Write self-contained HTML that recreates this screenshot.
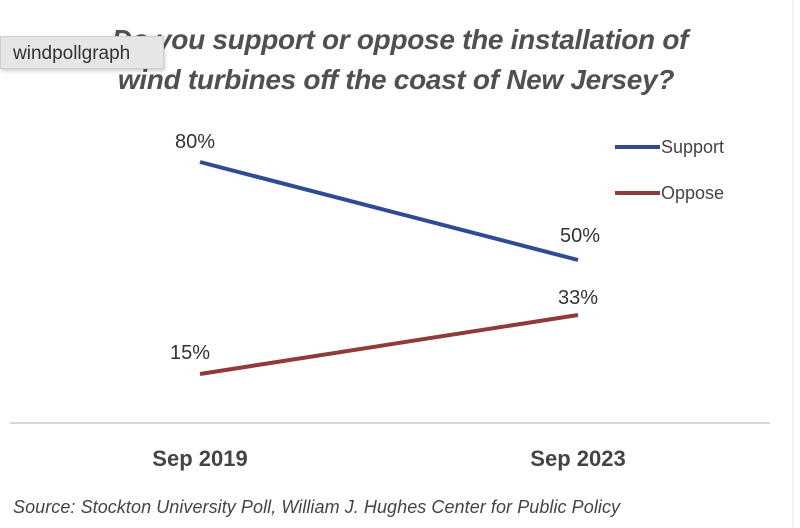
<!DOCTYPE html>
<html><head><style>
body{margin:0;background:#fff;width:800px;height:528px;overflow:hidden;position:relative;font-family:"Liberation Sans",sans-serif}
.t{position:absolute;left:0;width:800px;text-align:center;font-style:italic;font-weight:bold;color:#505050;font-size:28px;letter-spacing:-0.3px}
.tip{position:absolute;left:0;top:36px;width:164px;height:33px;background:#e8e6e4;border:1px solid #d0cdca;box-shadow:1px 2px 4px rgba(0,0,0,.2);font-size:19px;color:#333;line-height:33px;padding-left:12px;box-sizing:border-box}
</style></head><body>
<div class="t" style="top:24px;left:0px">Do you support or oppose the installation of</div>
<div class="t" style="top:64px;left:-4px">wind turbines off the coast of New Jersey?</div>
<div class="tip">windpollgraph</div>
<svg width="800" height="528" style="position:absolute;left:0;top:0" font-family="Liberation Sans, sans-serif">
<line x1="10" y1="423" x2="770" y2="423" stroke="#d9d9d9" stroke-width="2"/>
<line x1="793" y1="0" x2="793" y2="528" stroke="#e6e6e6" stroke-width="1"/>
<line x1="200" y1="162" x2="578" y2="260" stroke="#2f4b93" stroke-width="4"/>
<line x1="200" y1="374" x2="578" y2="315" stroke="#8e3b3b" stroke-width="4"/>
<g font-size="20" fill="#333">
<text x="195" y="148" text-anchor="middle">80%</text>
<text x="580" y="242" text-anchor="middle">50%</text>
<text x="578" y="304" text-anchor="middle">33%</text>
<text x="190" y="359" text-anchor="middle">15%</text>
</g>
<line x1="615" y1="147" x2="660" y2="147" stroke="#2f4b93" stroke-width="4"/>
<line x1="615" y1="193" x2="660" y2="193" stroke="#8e3b3b" stroke-width="4"/>
<g font-size="18" fill="#444">
<text x="661" y="153">Support</text>
<text x="661" y="199">Oppose</text>
</g>
<g font-size="22" font-weight="bold" fill="#444" text-anchor="middle">
<text x="200" y="466">Sep 2019</text>
<text x="578" y="466">Sep 2023</text>
</g>
<text x="13" y="513" font-size="18" font-style="italic" fill="#444" textLength="607">Source: Stockton University Poll, William J. Hughes Center for Public Policy</text>
</svg>
</body></html>
